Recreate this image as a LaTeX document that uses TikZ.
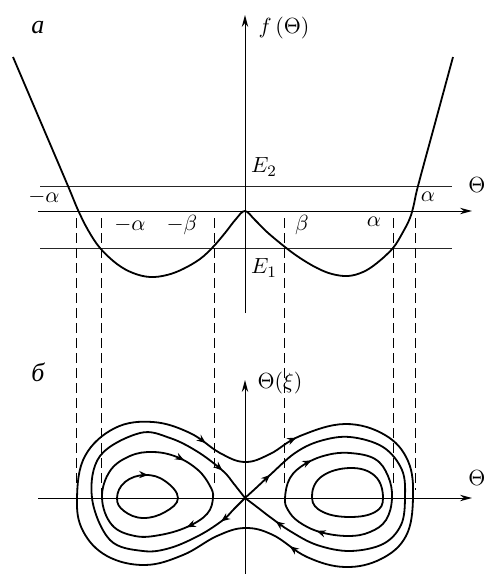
\documentclass[tikz,border=0pt]{standalone}
\usepackage{fontspec}
\newfontfamily\cyrfont{Liberation Serif}
\usetikzlibrary{arrows.meta,decorations.markings}

\begin{document}
\begin{tikzpicture}[
  x=0.5pt, y=-0.5pt,
  font=\fontsize{11}{13}\selectfont,
  axis/.style={line width=0.5pt, -{Stealth[length=6pt,width=3.2pt]}},
  level/.style={line width=0.5pt, draw=black!85},
  guide/.style={line width=0.45pt, dash pattern=on 5pt off 2.5pt},
  curve/.style={line width=0.9pt},
  flow/.style={postaction={decorate, decoration={markings, mark=at position #1 with {\arrow{Stealth[length=4.5pt,width=3.6pt]}}}}},
  panel/.style={font=\fontsize{13}{15}\selectfont\cyrfont\itshape},
]
  \useasboundingbox (0,0) rectangle (484,574);

  % upper panel: potential
  \coordinate (ax1-l) at (38,211);
  \coordinate (ax1-r) at (472,211);
  \coordinate (ax1-b) at (245,313);
  \coordinate (ax1-t) at (245,15);
  \coordinate (e2-l) at (40,186);
  \coordinate (e2-r) at (452,186);
  \coordinate (e1-l) at (40,248);
  \coordinate (e1-r) at (452,248);

  \draw[level] (e2-l) -- (e2-r);
  \draw[level] (e1-l) -- (e1-r);
  \draw[axis] (ax1-l) -- (ax1-r);
  \draw[axis] (ax1-b) -- (ax1-t);

  \draw[curve] plot[smooth, tension=0.6] coordinates {(13,57) (40.5,121.5) (68,186) (78,210) (88,230) (100,248) (117,264) (133,273) (150,277) (167,275) (183,269) (200,259) (213,247) (225,233) (236,219) (245,211) (255,220) (267,232) (285,247) (300,258) (317,268) (332,274) (348,276) (363,272) (377,263) (393,248) (403,232) (410,218) (414,204) (418,186) (435.5,121.5) (453,57)};

  \node[panel] (lbl-a) at (38,28) {а};
  \node (lbl-f) at (284,28) {$f\,(\Theta)$};
  \node (lbl-e2) at (264,167) {$E_2$};
  \node (lbl-e1) at (264,268) {$E_1$};
  \node (lbl-th1) at (477,185) {$\Theta$};
  \node (lbl-ma) at (44,197) {$-\alpha$};
  \node (lbl-pa) at (428,197) {$\alpha$};
  \node (lbl-ma2) at (130,225) {$-\alpha$};
  \node (lbl-mb) at (182,225) {$-\beta$};
  \node (lbl-pb) at (302,225) {$\beta$};
  \node (lbl-pa2) at (374,222) {$\alpha$};

  % projections
  \foreach \x/\y in {76/488, 101/495, 214/484, 284/484, 393/486, 415/490}
    \draw[guide] (\x,218) -- (\x,\y);

  % lower panel: phase plane
  \begin{scope}[shift={(245,498)}]
    \coordinate (ax2-l) at (-207,0);
    \coordinate (ax2-r) at (227,0);
    \coordinate (ax2-b) at (0,76);
    \coordinate (ax2-t) at (0,-118);
    \draw[axis] (ax2-l) -- (ax2-r);
    \draw[axis] (ax2-b) -- (ax2-t);

    \node[panel] (lbl-b) at (-207,-126) {б};
    \node (lbl-th2) at (232,-20) {$\Theta$};
    \node (lbl-dth) at (35,-115) {$\Theta(\xi)$};

    % outer orbit
    \draw[curve, flow=0.156, flow=0.271, flow=0.651] plot[smooth cycle, tension=0.65] coordinates {(-168,0) (-160,-42) (-130,-70) (-92,-76) (-55,-65) (-25,-45) (0,-36) (25,-44) (55,-62) (100,-74) (140,-63) (163,-37) (168,0) (161,38) (136,61) (100,69) (62,59) (28,37) (0,30) (-28,38) (-62,57) (-100,67) (-138,58) (-162,33)};
    % separatrix
    \draw[curve, flow=0.08, flow=0.915] plot[smooth, tension=0.6] coordinates {(0,0) (-11,11) (-22,22) (-45,37) (-75,50) (-102,53) (-135,42) (-153,0) (-145,-42) (-105,-65) (-75,-60) (-47,-46) (-22,-27) (-11,-14) (0,0)};
    \draw[curve, flow=0.08, flow=0.91] plot[smooth, tension=0.6] coordinates {(0,0) (11,-10) (25,-23) (50,-45) (75,-57) (105,-61) (138,-51) (157,-28) (160,0) (156,27) (138,46) (105,53) (72,47) (45,33) (25,19) (12,9) (0,0)};
    % inner orbits
    \draw[curve, flow=0.263, flow=0.558] plot[smooth cycle, tension=0.65] coordinates {(-143,0) (-135,-27) (-115,-42) (-92,-46) (-68,-41) (-47,-28) (-35,-12) (-32,0) (-38,16) (-58,29) (-85,37) (-110,38) (-133,27)};
    \draw[curve, flow=0.092, flow=0.772] plot[smooth cycle, tension=0.65] coordinates {(40,0) (45,-20) (60,-34) (82,-43) (105,-45) (130,-39) (143,-22) (147,0) (141,22) (125,34) (103,38) (75,34) (54,24) (43,12)};
    \draw[curve, flow=0.152] plot[smooth cycle, tension=0.7] coordinates {(-128,0) (-120,-16) (-100,-23) (-80,-17) (-67,0) (-80,14) (-102,20) (-121,13)};
    \draw[curve] plot[smooth cycle, tension=0.7] coordinates {(67,0) (76,-21) (105,-30) (130,-22) (138,0) (130,14) (105,19) (78,14)};
  \end{scope}
\end{tikzpicture}
\end{document}
